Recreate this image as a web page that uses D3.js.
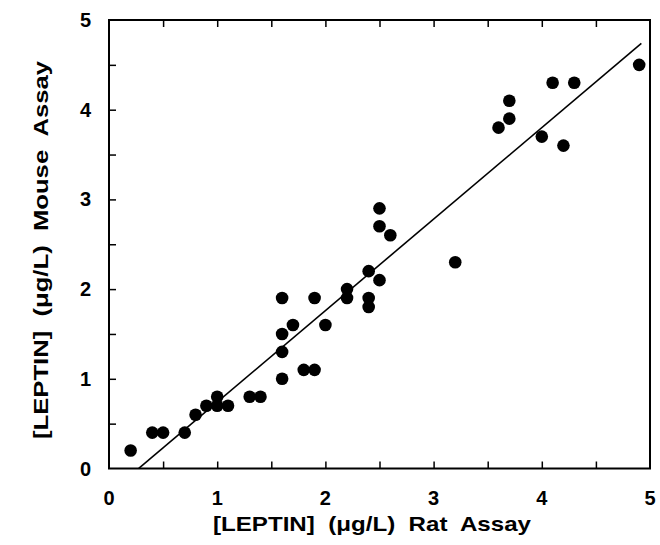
<!DOCTYPE html>
<html>
<head>
<meta charset="utf-8">
<script src="https://cdn.jsdelivr.net/npm/d3@7"></script>
<style>
  body { margin: 0; background: #fff; }
  text { font-family: "Liberation Sans", Arial, sans-serif; font-weight: bold; fill: #000; }
</style>
</head>
<body>
<div id="chart"></div>
<script>
// leptin values (rat assay vs mouse assay, ug/L)
var ratAssay = [0.2, 0.4, 0.5, 0.7, 0.8, 0.9, 1.0, 1.0, 1.1, 1.3, 1.4,
                1.6, 1.6, 1.6, 1.6, 1.7, 1.8, 1.9, 1.9, 2.0, 2.2, 2.2,
                2.4, 2.4, 2.4, 2.5, 2.5, 2.5, 2.6, 3.2, 3.6, 3.7, 3.7,
                4.0, 4.1, 4.2, 4.3, 4.9];
var mouseAssay = [0.2, 0.4, 0.4, 0.4, 0.6, 0.7, 0.7, 0.8, 0.7, 0.8, 0.8,
                  1.0, 1.3, 1.5, 1.9, 1.6, 1.1, 1.1, 1.9, 1.6, 1.9, 2.0,
                  1.8, 1.9, 2.2, 2.1, 2.7, 2.9, 2.6, 2.3, 3.8, 3.9, 4.1,
                  3.7, 4.3, 3.6, 4.3, 4.5];
// regression line, drawn from fitX[0] to fitX[1]
var fitSlope = 1.02;
var fitIntercept = -0.28;
var fitX = [0.275, 4.92];
var tickValues = [0, 1, 2, 3, 4, 5];
var minorTicks = [0.5, 1, 1.5, 2, 2.5, 3, 3.5, 4, 4.5];
var xTitle = "[LEPTIN]  (\u03bcg/L)  Rat  Assay";
var yTitle = "[LEPTIN]  (\u03bcg/L)  Mouse  Assay";

showScatter("chart", 660, 545);

function showScatter(container_id, width, height) {
	var left = 109, right = 650, top = 20, bottom = 468.5;

	var x = d3.scaleLinear().domain([0, 5]).range([left, right]);
	var y = d3.scaleLinear().domain([0, 5]).range([bottom, top]);

	var svg = d3.select("#" + container_id)
				.append("svg")
				.attr("width", width)
				.attr("height", height);

	// inward ticks on bottom, top and left
	svg.append("g")
		.attr("transform", "translate(0," + bottom + ")")
		.call(d3.axisTop(x).tickValues(minorTicks).tickSize(7).tickFormat(""))
		.call(function (g) { g.select(".domain").remove(); });
	svg.append("g")
		.attr("transform", "translate(0," + top + ")")
		.call(d3.axisBottom(x).tickValues(minorTicks).tickSize(7).tickFormat(""))
		.call(function (g) { g.select(".domain").remove(); });
	svg.append("g")
		.attr("transform", "translate(" + left + ",0)")
		.call(d3.axisRight(y).tickValues(minorTicks).tickSize(7).tickFormat(""))
		.call(function (g) { g.select(".domain").remove(); });
	svg.selectAll(".tick line").attr("stroke", "#000").attr("stroke-width", 1.5);

	// frame
	svg.append("rect")
		.attr("x", left)
		.attr("y", top)
		.attr("width", right - left)
		.attr("height", bottom - top)
		.attr("fill", "none")
		.attr("stroke", "#000")
		.attr("stroke-width", 2);

	// tick labels
	svg.append("g").selectAll("text")
		.data(tickValues)
		.enter()
		.append("text")
		.attr("x", function (d) { return x(d); })
		.attr("y", 505)
		.attr("text-anchor", "middle")
		.attr("font-size", "20px")
		.text(function (d) { return d; });
	svg.append("g").selectAll("text")
		.data(tickValues)
		.enter()
		.append("text")
		.attr("x", 91)
		.attr("y", function (d) { return y(d) + 7; })
		.attr("text-anchor", "end")
		.attr("font-size", "20px")
		.text(function (d) { return d; });

	// axis titles, glyphs widened to the width of the original lettering
	svg.append("text")
		.attr("x", 372)
		.attr("y", 531)
		.attr("text-anchor", "middle")
		.attr("font-size", "21px")
		.attr("xml:space", "preserve")
		.attr("textLength", 318)
		.attr("lengthAdjust", "spacingAndGlyphs")
		.text(xTitle);
	svg.append("text")
		.attr("transform", "translate(48," + 250 + ") rotate(-90)")
		.attr("text-anchor", "middle")
		.attr("font-size", "21px")
		.attr("xml:space", "preserve")
		.attr("textLength", 378)
		.attr("lengthAdjust", "spacingAndGlyphs")
		.text(yTitle);

	// regression line
	var line = d3.line()
				.x(function (d) { return x(d); })
				.y(function (d) { return y(fitSlope * d + fitIntercept); });
	svg.append("path")
		.datum(fitX)
		.attr("d", line)
		.attr("fill", "none")
		.attr("stroke", "#000")
		.attr("stroke-width", 1.6);

	// points
	svg.append("g").selectAll("circle")
		.data(ratAssay)
		.enter()
		.append("circle")
		.attr("cx", function (d) { return x(d); })
		.attr("cy", function (d, i) { return y(mouseAssay[i]); })
		.attr("r", 6.3)
		.attr("fill", "#000");
}
</script>
</body>
</html>
